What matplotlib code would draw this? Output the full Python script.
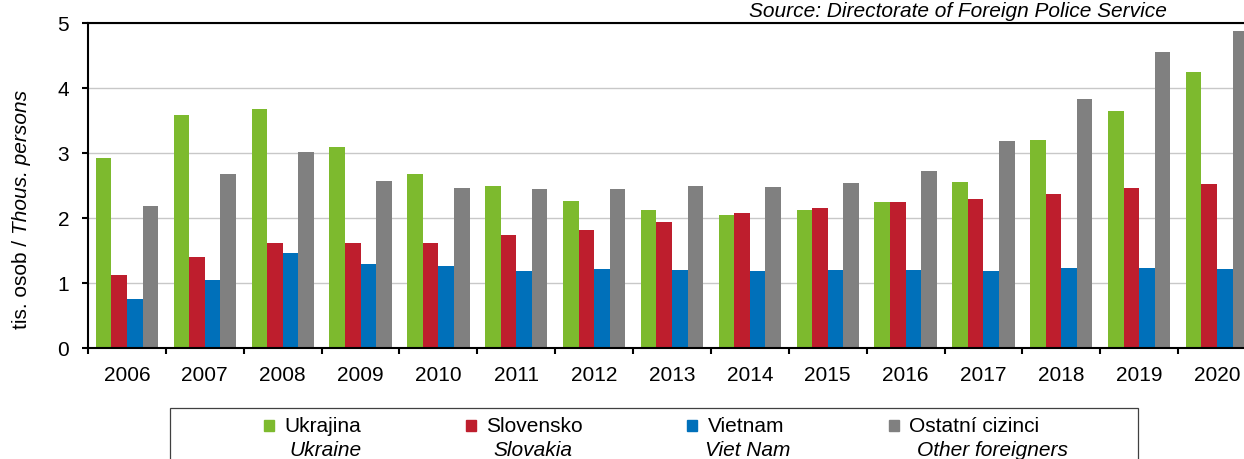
import matplotlib
matplotlib.use('Agg')
import matplotlib.pyplot as plt
import numpy as np
from matplotlib.patches import Rectangle

# data (thousands of persons)
roky = ['2006', '2007', '2008', '2009', '2010', '2011', '2012', '2013',
        '2014', '2015', '2016', '2017', '2018', '2019', '2020']
ukrajina = [2.92, 3.59, 3.67, 3.09, 2.68, 2.49, 2.26, 2.12, 2.05, 2.12,
            2.25, 2.55, 3.20, 3.64, 4.25]
slovensko = [1.12, 1.40, 1.62, 1.61, 1.61, 1.74, 1.82, 1.94, 2.07, 2.16,
             2.24, 2.30, 2.37, 2.46, 2.53]
vietnam = [0.76, 1.05, 1.46, 1.29, 1.26, 1.19, 1.22, 1.20, 1.18, 1.20,
           1.20, 1.19, 1.23, 1.23, 1.21]
ostatni = [2.19, 2.68, 3.01, 2.57, 2.46, 2.44, 2.44, 2.50, 2.48, 2.54,
           2.73, 3.19, 3.83, 4.56, 4.88]

popisky_cz = ['Ukrajina', 'Slovensko', 'Vietnam', 'Ostatní cizinci']
popisky_en = ['Ukraine', 'Slovakia', 'Viet Nam', 'Other foreigners']
barvy = ['#7DBA2E', '#BE1E2D', '#0070BA', '#808080']

plt.rcParams['font.family'] = ['Liberation Sans', 'DejaVu Sans']

W, H = 1244, 460
fig = plt.figure(figsize=(W / 100, H / 100), dpi=100)


def px(x, y):
	# pixel coordinates (from top-left) -> figure fraction
	return x / W, 1 - y / H


ax = fig.add_axes([88 / W, 1 - 349 / H, 1168 / W, 325 / H])

x = np.arange(len(roky))
serie = [ukrajina, slovensko, vietnam, ostatni]
for i, (hodnoty, barva) in enumerate(zip(serie, barvy)):
	ax.bar(x - 0.3 + 0.2 * i, hodnoty, width=0.2, color=barva, zorder=2)

ax.set_xlim(-0.5, len(roky) - 0.5)
ax.set_ylim(0, 5)
ax.set_yticks(range(6))
ax.set_xticks(np.arange(-0.5, len(roky), 1))
ax.set_xticklabels([])
ax.set_xticks(x, minor=True)
ax.set_xticklabels(roky, minor=True)
ax.tick_params(axis='x', which='major', direction='out', length=4.5, width=1.5)
ax.tick_params(axis='x', which='minor', length=0, pad=12.5, labelsize=15)
ax.tick_params(axis='y', direction='out', length=4.5, width=1.5, pad=9,
	labelsize=15)

ax.grid(axis='y', color='#c8c8c8', linewidth=1, zorder=0)
ax.set_axisbelow(True)
for s in ['left', 'bottom', 'top']:
	ax.spines[s].set_linewidth(1.5)
	ax.spines[s].set_color('black')
ax.spines['right'].set_visible(False)

# y label: normal + italic part
t1 = fig.text(*px(27, 329), 'tis. osob /', rotation=90, rotation_mode='anchor',
	ha='left', va='baseline', fontsize=15)
fig.canvas.draw()
bb = t1.get_window_extent(fig.canvas.get_renderer())
fig.text(*px(27, 329 - bb.height - 6), 'Thous. persons', rotation=90,
	rotation_mode='anchor', ha='left', va='baseline', fontsize=15,
	style='italic')

fig.text(*px(1167, 17), 'Source: Directorate of Foreign Police Service',
	ha='right', va='baseline', fontsize=15, style='italic')

# legend drawn by hand (two-line labels, second line italic)
fig.patches.append(Rectangle(px(170, 475), 968 / W, 66 / H,
	transform=fig.transFigure, fill=False, edgecolor='#404040', lw=0.9))
ctverce_x = [263.5, 465.5, 686.5, 888.5]
text_x = [284.3, 486, 708.3, 909.3]
text2_x = [289.3, 493, 705, 916.7]
for i in range(4):
	fig.patches.append(Rectangle(px(ctverce_x[i], 431.5), 10.5 / W, 10.5 / H,
		transform=fig.transFigure, color=barvy[i]))
	fig.text(*px(text_x[i], 432.3), popisky_cz[i], ha='left', va='baseline',
		fontsize=15)
	fig.text(*px(text2_x[i], 456.5), popisky_en[i], ha='left', va='baseline',
		fontsize=15, style='italic')

plt.savefig('out.png', dpi=100)
plt.close()
